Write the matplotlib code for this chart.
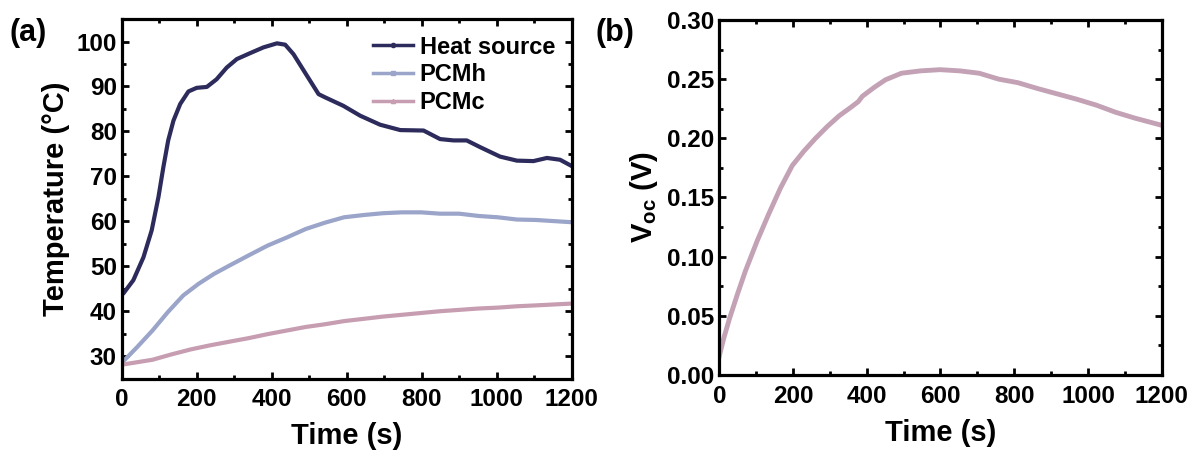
import numpy as np
import matplotlib.pyplot as plt
from matplotlib.lines import Line2D
from matplotlib.ticker import MultipleLocator

plt.rcParams['font.family'] = ['Liberation Sans', 'DejaVu Sans']
plt.rcParams['font.weight'] = 'bold'
plt.rcParams['mathtext.fontset'] = 'custom'
plt.rcParams['mathtext.rm'] = 'Liberation Sans:bold'
plt.rcParams['mathtext.bf'] = 'Liberation Sans:bold'

# panel (a): temperatures
t_heat = [0, 4, 31, 58, 80, 98, 111, 124, 138, 156, 178, 200, 227, 253, 280, 307, 342,
          378, 414, 436, 458, 494, 525, 542, 591, 636, 689, 743, 805, 849, 885, 920,
          956, 1009, 1054, 1098, 1134, 1169, 1200]
T_heat = [43.8, 43.9, 46.9, 52.0, 58.0, 65.4, 72.0, 78.0, 82.4, 86.1, 88.9, 89.7, 89.9,
          91.6, 94.2, 96.1, 97.4, 98.7, 99.6, 99.3, 97.2, 92.4, 88.3, 87.6, 85.7, 83.5,
          81.5, 80.3, 80.2, 78.3, 78.0, 78.0, 76.5, 74.4, 73.5, 73.4, 74.1, 73.7, 72.3]

t_pcmh = [0, 41, 82, 123, 164, 205, 246, 286, 338, 389, 440, 491, 542, 593, 645, 696,
          747, 798, 849, 900, 951, 1003, 1054, 1105, 1200]
T_pcmh = [28.5, 32.0, 35.7, 39.8, 43.5, 46.1, 48.3, 50.1, 52.4, 54.6, 56.4, 58.3, 59.7,
          60.9, 61.4, 61.8, 62.0, 62.0, 61.7, 61.7, 61.2, 60.9, 60.4, 60.3, 59.8]

t_pcmc = [0, 82, 133, 184, 235, 286, 338, 389, 440, 491, 542, 593, 645, 696, 747, 798,
          849, 900, 951, 1003, 1054, 1105, 1200]
T_pcmc = [28.1, 29.2, 30.4, 31.5, 32.4, 33.2, 34.0, 34.9, 35.7, 36.5, 37.1, 37.8, 38.3,
          38.8, 39.2, 39.6, 40.0, 40.3, 40.6, 40.8, 41.1, 41.3, 41.7]

# panel (b): open circuit voltage
t_voc = [0, 13, 28, 50, 71, 103, 134, 166, 198, 229, 261, 293, 325, 356, 377, 388, 420,
         451, 494, 546, 599, 652, 705, 758, 810, 864, 917, 970, 1023, 1075, 1128, 1200]
voc = [0.016, 0.032, 0.048, 0.069, 0.088, 0.1135, 0.136, 0.158, 0.177, 0.189, 0.200,
       0.210, 0.219, 0.226, 0.231, 0.2355, 0.243, 0.2495, 0.255, 0.257, 0.258, 0.257,
       0.255, 0.250, 0.247, 0.242, 0.2375, 0.233, 0.228, 0.222, 0.217, 0.211]

c_heat = '#2c2b5c'
c_pcmh = '#9ba4c9'
c_pcmc = '#c79db1'
c_voc = '#c4a2b6'


def style_axes(ax, xminor, yminor):
    for s in ax.spines.values():
        s.set_linewidth(2.3)
    ax.xaxis.set_minor_locator(MultipleLocator(xminor))
    ax.yaxis.set_minor_locator(MultipleLocator(yminor))
    ax.tick_params(which='both', direction='in', top=True, right=True, width=2,
                   labelsize=17.5)
    ax.tick_params(which='major', length=5)
    ax.tick_params(which='minor', length=3)
    ax.tick_params(axis='x', pad=7)
    for lab in ax.get_xticklabels() + ax.get_yticklabels():
        lab.set_fontweight('bold')


fig = plt.figure(figsize=(11.99, 4.54), dpi=100)
ax1 = fig.add_axes([0.1015, 0.166, 0.3753, 0.792])
ax2 = fig.add_axes([0.5999, 0.174, 0.369, 0.782])

ax1.plot(t_heat, T_heat, color=c_heat, lw=3, solid_joinstyle='round')
ax1.plot(t_pcmh, T_pcmh, color=c_pcmh, lw=3, solid_joinstyle='round')
ax1.plot(t_pcmc, T_pcmc, color=c_pcmc, lw=3, solid_joinstyle='round')
ax1.set_xlim(0, 1200)
ax1.set_ylim(25, 105)
ax1.set_xticks([0, 200, 400, 600, 800, 1000, 1200])
ax1.set_yticks([30, 40, 50, 60, 70, 80, 90, 100])
style_axes(ax1, 100, 5)
ax1.set_xlabel('Time (s)', fontsize=21, fontweight='bold', labelpad=8)
ax1.set_ylabel('Temperature (\u00b0C)', fontsize=21, fontweight='bold', labelpad=5)

handles = [
    Line2D([], [], color=c_heat, lw=2.5, marker='o', markersize=3),
    Line2D([], [], color=c_pcmh, lw=2.5, marker='s', markersize=3),
    Line2D([], [], color=c_pcmc, lw=2.5, marker='^', markersize=3),
]
ax1.legend(handles, ['Heat source', 'PCMh', 'PCMc'], loc='upper right', frameon=False,
           prop={'size': 17, 'weight': 'bold'}, handlelength=1.7, handletextpad=0.28,
           labelspacing=0.2, borderaxespad=0.3)

ax2.plot(t_voc, voc, color=c_voc, lw=3.5, solid_joinstyle='round')
ax2.set_xlim(0, 1200)
ax2.set_ylim(0, 0.30)
ax2.set_xticks([0, 200, 400, 600, 800, 1000, 1200])
ax2.set_yticks(np.arange(0, 0.31, 0.05))
ax2.set_yticklabels([f'{v:.2f}' for v in np.arange(0, 0.31, 0.05)])
style_axes(ax2, 100, 0.025)
ax2.set_xlabel('Time (s)', fontsize=21, fontweight='bold', labelpad=8)
ax2.set_ylabel(r'V$_{\mathbf{oc}}$ (V)', fontsize=21, fontweight='bold', labelpad=5)

fig.text(0.008, 0.96, '(a)', fontsize=22, fontweight='bold', va='top')
fig.text(0.497, 0.96, '(b)', fontsize=22, fontweight='bold', va='top')

fig.savefig('out.png', dpi=100)
